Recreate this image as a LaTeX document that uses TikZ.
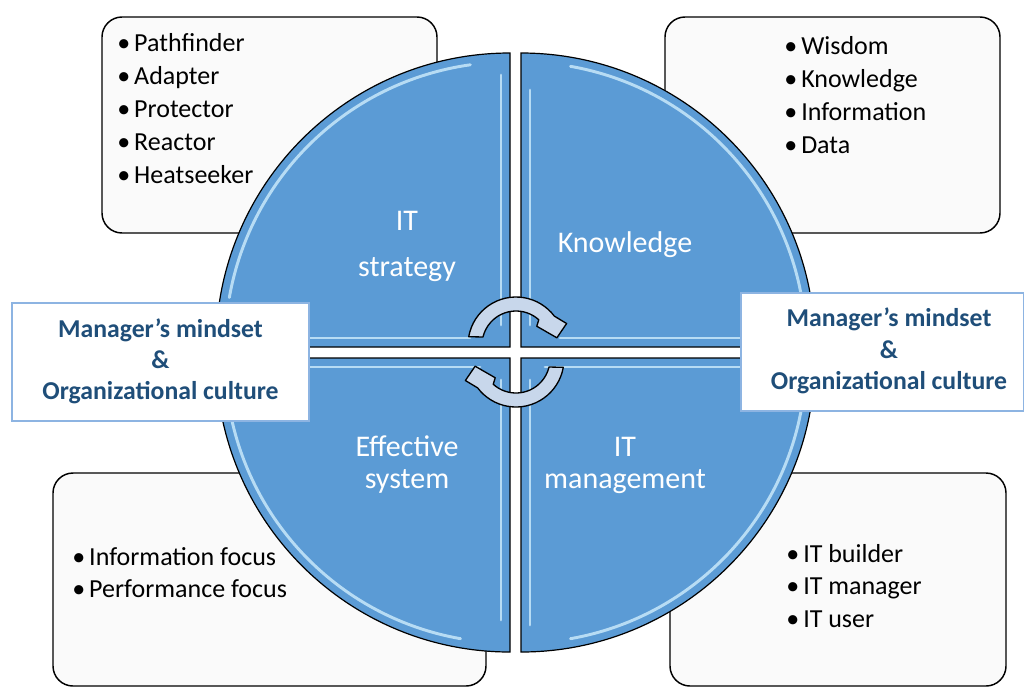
\documentclass[tikz,border=0pt]{standalone}
\usepackage{fontspec}
\setmainfont{Carlito}
\definecolor{qblue}{RGB}{91,155,213}
\definecolor{navy}{RGB}{31,78,121}
\definecolor{lblue}{RGB}{141,180,226}
\definecolor{boxgray}{RGB}{250,250,250}
\definecolor{arrowfill}{RGB}{200,215,235}
\definecolor{hilite}{RGB}{215,242,255}
\newcommand\bul{\makebox[12.75pt][l]{•}}
\begin{document}
\begin{tikzpicture}[x=0.75pt,y=-0.75pt,
  listbox/.style={draw=black, line width=1.1pt, rounded corners=15pt, fill=boxgray},
  quarter/.style={fill=qblue, draw=black, line width=0.9pt},
  hl/.style={draw=hilite, line width=2.2pt, opacity=0.75, line cap=round},
  qtext/.style={text=white, font=\fontsize{22.5}{27}\selectfont, anchor=base, inner sep=0pt},
  item/.style={font=\fontsize{19.5}{24}\selectfont, anchor=base west, inner sep=0pt},
  mlabel/.style={draw=lblue, line width=0.8pt, fill=white},
  mtext/.style={text=navy, font=\bfseries\fontsize{19.3}{24}\selectfont, anchor=base, inner sep=0pt},
  cyc/.style={fill=arrowfill, draw=black, line width=1pt, line join=round}]
\useasboundingbox (0,0) rectangle (1024,687);

% list boxes (behind the circle)
\draw[listbox] (102,17) rectangle (437,233);
\draw[listbox] (665,17) rectangle (1000,233);
\draw[listbox] (53,473) rectangle (486,686);
\draw[listbox] (670,473) rectangle (1006,686);

\foreach \t [count=\i] in {Pathfinder,Adapter,Protector,Reactor,Heatseeker}
  \node[item] (tl\i) at (117,{51+33*(\i-1)}) {\bul\t};
\foreach \t [count=\i] in {Wisdom,Knowledge,Information,Data}
  \node[item] (tr\i) at (784,{54+33*(\i-1)}) {\bul\t};
\foreach \t [count=\i] in {Information focus,Performance focus}
  \node[item] (bl\i) at (72,{565+32.5*(\i-1)}) {\bul\t};
\foreach \t [count=\i] in {IT builder,IT manager,IT user}
  \node[item] (br\i) at (786,{562+32.5*(\i-1)}) {\bul\t};

% quarters
\draw[quarter] (510,347) -- (216,347) arc[start angle=180, end angle=270, radius=294] -- cycle;
\draw[quarter] (521,347) -- (521,53) arc[start angle=270, end angle=360, radius=294] -- cycle;
\draw[quarter] (521,358) -- (815,358) arc[start angle=0, end angle=90, radius=294] -- cycle;
\draw[quarter] (510,358) -- (510,652) arc[start angle=90, end angle=180, radius=294] -- cycle;

% bevel highlights
\draw[hl] ([shift={(510,347)}]262:285) arc[start angle=262, end angle=190, radius=285];
\draw[hl] (501,75) -- (501,325);
\draw[hl] (245,338) -- (470,338);
\draw[hl] ([shift={(521,347)}]280:285) arc[start angle=280, end angle=350, radius=285];
\draw[hl] (530,90) -- (530,325);
\draw[hl] (560,338) -- (780,338);
\draw[hl] ([shift={(521,358)}]10:285) arc[start angle=10, end angle=80, radius=285];
\draw[hl] (530,380) -- (530,625);
\draw[hl] (545,367) -- (780,367);
\draw[hl] ([shift={(510,358)}]100:285) arc[start angle=100, end angle=170, radius=285];
\draw[hl] (501,380) -- (501,620);
\draw[hl] (245,367) -- (480,367);

% quarter labels
\node[qtext] (q1a) at (407,230) {IT};
\node[qtext] (q1b) at (407,276) {strategy};
\node[qtext] (q2) at (625,252) {Knowledge};
\node[qtext] (q3a) at (407,456) {Effective};
\node[qtext] (q3b) at (407,488) {system};
\node[qtext] (q4a) at (625,456) {IT};
\node[qtext] (q4b) at (625,488) {management};

% cycle arrows
\draw[cyc] ([shift={(516,345)}]190:48) arc[start angle=190, end angle=323, radius=48]
  -- ([shift={(516,345)}]337:55) -- ([shift={(516,345)}]350:41.5)
  -- ([shift={(516,345)}]318:28) -- ([shift={(516,345)}]312:34)
  arc[start angle=312, end angle=193.6, radius=34] -- cycle;
\begin{scope}[rotate around={180:(516,352)}]
\draw[cyc] ([shift={(516,345)}]190:48) arc[start angle=190, end angle=323, radius=48]
  -- ([shift={(516,345)}]337:55) -- ([shift={(516,345)}]350:41.5)
  -- ([shift={(516,345)}]318:28) -- ([shift={(516,345)}]312:34)
  arc[start angle=312, end angle=193.6, radius=34] -- cycle;
\end{scope}

% mindset labels
\draw[mlabel] (12,303) rectangle (309,421);
\draw[mlabel] (741,293) rectangle (1023.5,411);
\node[mtext] (l1) at (160.5,337) {Manager’s mindset};
\node[mtext] (l2) at (160.5,368) {\&};
\node[mtext] (l3) at (160.5,399.5) {Organizational culture};
\node[mtext] (r1) at (889,326.5) {Manager’s mindset};
\node[mtext] (r2) at (889,358) {\&};
\node[mtext] (r3) at (889,389.5) {Organizational culture};
\end{tikzpicture}
\end{document}
